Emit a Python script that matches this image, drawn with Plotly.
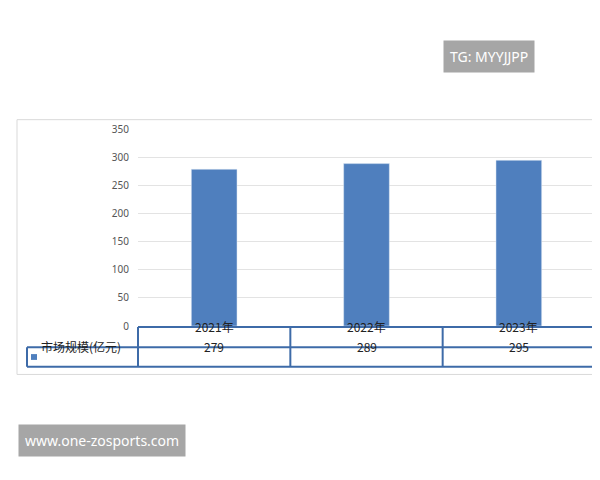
import plotly.graph_objects as go

years = ["2021年", "2022年", "2023年"]
values = [279, 289, 295]
series_name = "市场规模(亿元)"

W, H = 600, 480
X0, X1, Y_TOP, Y_BOT = 130, 587, 117, 320  # plot area in page pixels
blue = "#4F7FBE"
line_c = "#3E6BA8"

def px(x):
    return x / W

def py(y):
    return 1 - y / H

fig = go.Figure(go.Bar(x=list(range(len(years))), y=values, marker_color=blue,
                       width=0.3, hoverinfo="skip"))

def hline(x0, x1, y, color=line_c, w=2):
    return dict(type="line", xref="paper", yref="paper", x0=px(x0), x1=px(x1),
                y0=py(y), y1=py(y), line=dict(color=color, width=w))

def vline(x, y0, y1, color=line_c, w=2):
    return dict(type="line", xref="paper", yref="paper", x0=px(x), x1=px(x),
                y0=py(y0), y1=py(y1), line=dict(color=color, width=w))

col_w = (X1 - X0) / len(years)
shapes = [
    dict(type="rect", xref="paper", yref="paper", x0=px(9), x1=px(591), y0=py(370), y1=py(107),
         line=dict(color="#D9D9D9", width=1)),
    hline(X0, X1, 321), hline(19, X1, 342), hline(19, X1, 362),
    vline(19, 342, 362),
    dict(type="rect", xref="paper", yref="paper", x0=px(23), x1=px(29), y0=py(355), y1=py(349),
         fillcolor=blue, line=dict(width=0)),
]
for i in range(len(years) + 1):
    shapes.append(vline(X0 + i * col_w, 321, 362))

font = dict(family="Noto Sans CJK SC", size=12, color="#222")
ann = []
for i, (yr, v) in enumerate(zip(years, values)):
    ann.append(dict(x=i, y=py(331.5), xref="x", yref="paper", text=yr, showarrow=False, font=font))
    ann.append(dict(x=i, y=py(352), xref="x", yref="paper", text=str(v), showarrow=False, font=font))
ann.append(dict(x=px(31), y=py(352), xref="paper", yref="paper", text=series_name,
                showarrow=False, xanchor="left", font=font))
ann.append(dict(x=px(527), y=py(25), xref="paper", yref="paper", text="TG: MYYJJPP",
                showarrow=False, bgcolor="#A6A6A6", borderpad=6,
                font=dict(family="Noto Sans", size=14, color="white")))
ann.append(dict(x=px(10), y=py(455), xref="paper", yref="paper", xanchor="left",
                text="www.one-zosports.com", showarrow=False, bgcolor="#A6A6A6", borderpad=6,
                font=dict(family="Noto Sans", size=14, color="white")))

fig.update_layout(
    width=W, height=H, margin=dict(l=0, r=0, t=0, b=0),
    paper_bgcolor="white", plot_bgcolor="white", showlegend=False,
    shapes=shapes, annotations=ann,
    xaxis=dict(domain=[px(X0), px(X1)], range=[-0.5, 2.5], showticklabels=False,
               showgrid=False, zeroline=False, fixedrange=True),
    yaxis=dict(domain=[py(Y_BOT), py(Y_TOP)], range=[0, 350], dtick=50, showgrid=True,
               gridcolor="#E3E3E3", zeroline=False, ticks="", ticklabelstandoff=8,
               tickfont=dict(family="Noto Sans", size=10, color="#555")),
)

fig.write_html("out.html")
